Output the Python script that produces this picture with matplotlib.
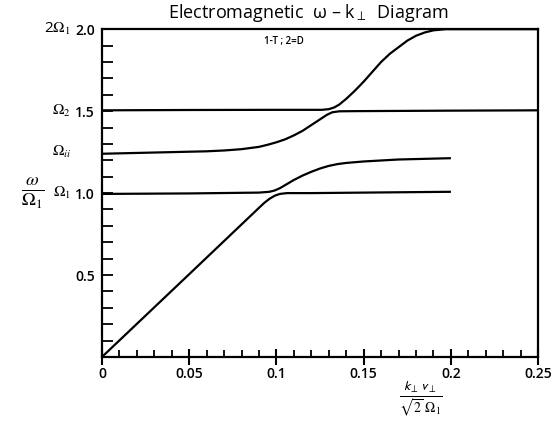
import numpy as np
import matplotlib
matplotlib.use("Agg")
import matplotlib.pyplot as plt
from matplotlib.ticker import MultipleLocator
from matplotlib.transforms import blended_transform_factory

# data
b1_x = [0, 0.05, 0.09, 0.093, 0.096, 0.099, 0.102, 0.106, 0.11, 0.12, 0.15, 0.2]
b1_y = [0, 0.505, 0.91, 0.94, 0.965, 0.984, 0.995, 1.0, 1.0, 1.0, 1.003, 1.008]

b2_x = [0, 0.05, 0.09, 0.096, 0.099, 0.102, 0.106, 0.11, 0.115, 0.12, 0.125, 0.13,
        0.135, 0.14, 0.15, 0.17, 0.2]
b2_y = [0.995, 0.998, 1.003, 1.008, 1.016, 1.03, 1.055, 1.08, 1.107, 1.13, 1.15, 1.166,
        1.177, 1.184, 1.193, 1.205, 1.213]

b3_x = [0, 0.04, 0.06, 0.07, 0.08, 0.09, 0.095, 0.1, 0.105, 0.11, 0.115, 0.12, 0.125,
        0.129, 0.132, 0.136, 0.145, 0.2, 0.25]
b3_y = [1.24, 1.25, 1.255, 1.26, 1.268, 1.282, 1.295, 1.31, 1.328, 1.352, 1.38, 1.415, 1.45,
        1.478, 1.493, 1.499, 1.5, 1.503, 1.505]

b4_x = [0, 0.05, 0.1, 0.126, 0.13, 0.133, 0.136, 0.14, 0.145, 0.15, 0.155, 0.16, 0.165,
        0.17, 0.175, 0.18, 0.185, 0.19, 0.197, 0.25]
b4_y = [1.505, 1.507, 1.508, 1.508, 1.512, 1.522, 1.54, 1.575, 1.625, 1.68, 1.74, 1.8, 1.85,
        1.89, 1.93, 1.96, 1.98, 1.993, 2.0, 2.0]

xticks = [0, 0.05, 0.1, 0.15, 0.2, 0.25]
xtick_labels = ["0", "0.05", "0.1", "0.15", "0.2", "0.25"]
yticks = [0.5, 1.0, 1.5, 2.0]
ytick_labels = ["0.5", "1.0", "1.5", "2.0"]
omega_labels = [(2.0, r"2$\Omega_1$"), (1.5, r"$\Omega_2$"), (1.25, r"$\Omega_{ii}$"), (1.0, r"$\Omega_1$")]

plt.rcParams["font.family"] = ["Open Sans", "DejaVu Sans"]
plt.rcParams["mathtext.fontset"] = "stix"

fig = plt.figure(figsize=(5.6, 4.23), dpi=100)
ax = fig.add_axes([0.182, 0.156, 0.779, 0.775])

for xs, ys in [(b1_x, b1_y), (b2_x, b2_y), (b3_x, b3_y), (b4_x, b4_y)]:
    ax.plot(xs, ys, color="black", lw=1.6, clip_on=False, solid_capstyle="butt")

ax.set_xlim(0, 0.25)
ax.set_ylim(0, 2.0)
for s in ax.spines.values():
    s.set_linewidth(1.6)

ax.set_xticks(xticks)
ax.set_xticklabels(xtick_labels, fontsize=10, fontweight="semibold")
ax.xaxis.set_minor_locator(MultipleLocator(0.01))
ax.tick_params(axis="x", which="major", direction="inout", length=12, width=1.5, pad=1)
ax.tick_params(axis="x", which="minor", direction="in", length=5, width=1.3)

ax.set_yticks(yticks)
ax.set_yticklabels(ytick_labels, fontsize=10, fontweight="semibold")
ax.yaxis.set_minor_locator(MultipleLocator(0.1))
ax.tick_params(axis="y", which="both", direction="in", length=8, width=1.3, pad=5)

trans = blended_transform_factory(fig.transFigure, ax.transData)
for yv, lab in omega_labels:
    ax.text(71 / 560, yv, lab, transform=trans, fontsize=11, ha="right", va="center")

ax.text(-0.158, 0.5, r"$\frac{\omega}{\Omega_1}$", transform=ax.transAxes,
        fontsize=19, ha="center", va="center")

ax.text(0.73, -0.13, r"$\frac{\mathsf{k}_\perp\, \mathsf{v}_\perp}{\sqrt{2}\;\Omega_1}$",
        transform=ax.transAxes, fontsize=14, ha="center", va="center")

fig.text(0.55, 0.97, "Electromagnetic  \u03c9 \u2013 k$_\\perp$  Diagram",
         fontsize=13, ha="center", va="center")
ax.text(0.418, 0.965, "1-T ; 2=D", transform=ax.transAxes, fontsize=7,
        ha="center", va="center", fontweight="semibold")

fig.savefig("out.png", dpi=100)
